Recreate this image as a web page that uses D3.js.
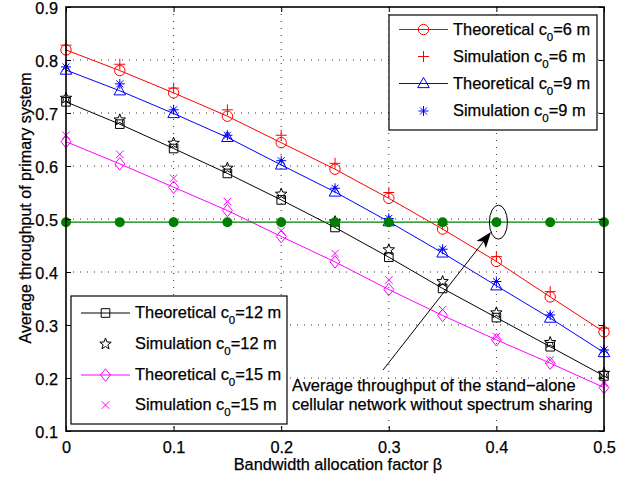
<!DOCTYPE html>
<html><head><meta charset="utf-8">
<script src="https://cdn.jsdelivr.net/npm/d3@7"></script>
<style>body{margin:0;background:#fff}svg{display:block;font-family:"Liberation Sans",Arial,Helvetica,sans-serif}svg text{stroke:#000;stroke-width:0.25px}</style>
</head><body>
<script>
const betas = [0,0.05,0.1,0.15,0.2,0.25,0.3,0.35,0.4,0.45,0.5];
const theo6  = [0.819,0.780,0.738,0.694,0.644,0.594,0.539,0.481,0.420,0.353,0.287];
const sim6   = [0.828,0.792,0.747,0.706,0.658,0.605,0.550,0.490,0.429,0.363,0.294];
const theo9  = [0.781,0.742,0.699,0.654,0.602,0.551,0.495,0.436,0.374,0.313,0.248];
const sim9   = [0.787,0.755,0.706,0.658,0.610,0.558,0.501,0.443,0.382,0.319,0.253];
const theo12 = [0.721,0.679,0.633,0.586,0.536,0.484,0.428,0.369,0.314,0.259,0.204];
const sim12  = [0.728,0.687,0.643,0.596,0.547,0.495,0.442,0.382,0.323,0.267,0.209];
const theo15 = [0.646,0.604,0.560,0.516,0.467,0.419,0.367,0.318,0.272,0.228,0.182];
const sim15  = [0.658,0.622,0.577,0.533,0.478,0.435,0.385,0.329,0.278,0.234,0.190];
const standalone = [0.494,0.494,0.494,0.494,0.494,0.494,0.494,0.494,0.494,0.494,0.494];
const xTicks = [0,0.1,0.2,0.3,0.4,0.5];
const yTicks = [0.1,0.2,0.3,0.4,0.5,0.6,0.7,0.8,0.9];
const xLabel = "Bandwidth allocation factor β";
const yLabel = "Average throughput of primary system";
const annotLines = ["Average throughput of the stand\u2212alone","cellular network without spectrum sharing"];

const W=637,H=481;
const L=66,R=604,T=7,B=431;
const x=d3.scaleLinear().domain([0,0.5]).range([L,R]);
const y=d3.scaleLinear().domain([0.1,0.9]).range([B,T]);
const svg=d3.select("body").append("svg").attr("width",W).attr("height",H);

function mk(type,s){
  switch(type){
    case "circle": return `M${s},0A${s},${s} 0 1,1 ${-s},0A${s},${s} 0 1,1 ${s},0Z`;
    case "plus": return `M${-s},0H${s}M0,${-s}V${s}`;
    case "x": {const a=s*0.75;return `M${-a},${-a}L${a},${a}M${-a},${a}L${a},${-a}`;}
    case "asterisk": {const a=s*0.7;return `M${-s},0H${s}M0,${-s}V${s}M${-a},${-a}L${a},${a}M${-a},${a}L${a},${-a}`;}
    case "triangle": return `M0,${-s*1.1}L${s*1.05},${s*0.75}L${-s*1.05},${s*0.75}Z`;
    case "square": return `M${-s},${-s}H${s}V${s}H${-s}Z`;
    case "diamond": return `M0,${-s*1.25}L${s},0L0,${s*1.25}L${-s},0Z`;
    case "star": {let p=[];for(let i=0;i<10;i++){const r=i%2?s*0.42:s;const a=-Math.PI/2+i*Math.PI/5;p.push([r*Math.cos(a),r*Math.sin(a)]);}return "M"+p.map(d=>d.join(",")).join("L")+"Z";}
  }
}
const series=[
  {vals:theo6,color:"#ff0000",marker:"circle",size:5.2,line:true,label:"Theoretical c",sub:"0",rest:"=6 m"},
  {vals:sim6,color:"#ff0000",marker:"plus",size:5.5,line:false,label:"Simulation c",sub:"0",rest:"=6 m"},
  {vals:theo9,color:"#0000ff",marker:"triangle",size:5.5,line:true,label:"Theoretical c",sub:"0",rest:"=9 m"},
  {vals:sim9,color:"#0000ff",marker:"asterisk",size:5,line:false,label:"Simulation c",sub:"0",rest:"=9 m"},
  {vals:theo12,color:"#000000",marker:"square",size:4.3,line:true,label:"Theoretical c",sub:"0",rest:"=12 m"},
  {vals:sim12,color:"#000000",marker:"star",size:6,line:false,label:"Simulation c",sub:"0",rest:"=12 m"},
  {vals:theo15,color:"#ff00ff",marker:"diamond",size:5,line:true,label:"Theoretical c",sub:"0",rest:"=15 m"},
  {vals:sim15,color:"#ff00ff",marker:"x",size:5,line:false,label:"Simulation c",sub:"0",rest:"=15 m"}
];

const g=svg.append("g");
g.selectAll(".gx").data(xTicks.slice(1,-1)).enter().append("line")
 .attr("x1",d=>x(d)).attr("x2",d=>x(d)).attr("y1",T).attr("y2",B)
 .attr("stroke","#333").attr("stroke-width",1).attr("stroke-dasharray","1,6");
g.selectAll(".gy").data(yTicks.slice(1,-1)).enter().append("line")
 .attr("y1",d=>y(d)).attr("y2",d=>y(d)).attr("x1",L).attr("x2",R)
 .attr("stroke","#333").attr("stroke-width",1).attr("stroke-dasharray","1,6");

const line=d3.line().x((d,i)=>x(betas[i])).y(d=>y(d));
series.forEach(s=>{
  if(s.line) svg.append("path").attr("d",line(s.vals)).attr("fill","none").attr("stroke",s.color).attr("stroke-width",1);
  svg.selectAll(null).data(s.vals).enter().append("path")
   .attr("transform",(d,i)=>`translate(${x(betas[i])},${y(d)})`)
   .attr("d",mk(s.marker,s.size)).attr("fill","none").attr("stroke",s.color).attr("stroke-width",1);
});
const green="#008000";
svg.append("path").attr("d",line(standalone)).attr("fill","none").attr("stroke",green).attr("stroke-width",1.2);
svg.selectAll(null).data(standalone).enter().append("circle")
 .attr("cx",(d,i)=>x(betas[i])).attr("cy",d=>y(d)).attr("r",5).attr("fill",green);

const ax=svg.append("g");
const xa=d3.axisBottom(x).tickValues(xTicks).tickSize(-5).tickPadding(10).tickFormat(d=>d===0?"0":d3.format(".1f")(d));
const ya=d3.axisLeft(y).tickValues(yTicks).tickSize(-5).tickPadding(8).tickFormat(d3.format(".1f"));
const gx=ax.append("g").attr("transform",`translate(0,${B})`).call(xa);
const gy=ax.append("g").attr("transform",`translate(${L},0)`).call(ya);
const gx2=ax.append("g").attr("transform",`translate(0,${T})`).call(d3.axisTop(x).tickValues(xTicks).tickSize(-5).tickFormat(""));
const gy2=ax.append("g").attr("transform",`translate(${R},0)`).call(d3.axisRight(y).tickValues(yTicks).tickSize(-5).tickFormat(""));
[gx,gy,gx2,gy2].forEach(a=>{a.select(".domain").remove();a.selectAll("line").attr("stroke","#000");
  a.selectAll("text").attr("font-size",16.3).attr("fill","#000").attr("font-family","Liberation Sans, Arial, sans-serif");});
gy.selectAll("text").attr("dy","0.4em");
svg.append("rect").attr("x",L).attr("y",T).attr("width",R-L).attr("height",B-T).attr("fill","none").attr("stroke","#000").attr("stroke-width",1.6);

svg.append("text").attr("x",(L+R)/2+3).attr("y",470).attr("text-anchor","middle").attr("font-size",16.3).text(xLabel);
svg.append("text").attr("transform","translate(31,208) rotate(-90)").attr("text-anchor","middle").attr("font-size",16).text(yLabel);

svg.append("rect").attr("x",289).attr("y",380).attr("width",292).attr("height",35).attr("fill","#fff");
const at=svg.append("text").attr("font-size",16.4).attr("x",292);
annotLines.forEach((t,i)=>at.append("tspan").attr("x",292).attr("y",391+i*19).text(t));
svg.append("ellipse").attr("cx",x(0.4)+2).attr("cy",y(0.494)).attr("rx",9).attr("ry",17).attr("fill","none").attr("stroke","#000").attr("stroke-width",1);
const ax0=383,ay0=370,ax1=491,ay1=232;
const ang=Math.atan2(ay1-ay0,ax1-ax0);
svg.append("line").attr("x1",ax0).attr("y1",ay0).attr("x2",ax1-10*Math.cos(ang)).attr("y2",ay1-10*Math.sin(ang)).attr("stroke","#000").attr("stroke-width",1);
svg.append("path").attr("transform",`translate(${ax1},${ay1}) rotate(${ang*180/Math.PI})`)
 .attr("d","M0,0L-16,-6L-12,0L-16,6Z").attr("fill","#000");

function legend(x0,y0,w,h,items,ys,lx0,lx1,tx){
  const lg=svg.append("g");
  lg.append("rect").attr("x",x0).attr("y",y0).attr("width",w).attr("height",h).attr("fill","#fff").attr("stroke","#000").attr("stroke-width",1.2);
  items.forEach((s,i)=>{
    const yy=ys[i];
    if(s.line) lg.append("line").attr("x1",lx0).attr("x2",lx1).attr("y1",yy).attr("y2",yy).attr("stroke",s.color).attr("stroke-width",1);
    lg.append("path").attr("transform",`translate(${(lx0+lx1)/2},${yy})`).attr("d",mk(s.marker,s.size)).attr("fill","none").attr("stroke",s.color).attr("stroke-width",1);
    const t=lg.append("text").attr("x",tx).attr("y",yy+5).attr("font-size",16.4);
    t.append("tspan").text(s.label);
    t.append("tspan").attr("font-size",11.5).attr("dy",6).text(s.sub);
    t.append("tspan").attr("dy",-6).text(s.rest);
  });
}
legend(389,15,208,115,series.slice(0,4),[29.5,56.5,83.5,111],399,448,453);
legend(71,296,216,128,series.slice(4),[313,344,375,405],81,130,135);
</script>
</body></html>
